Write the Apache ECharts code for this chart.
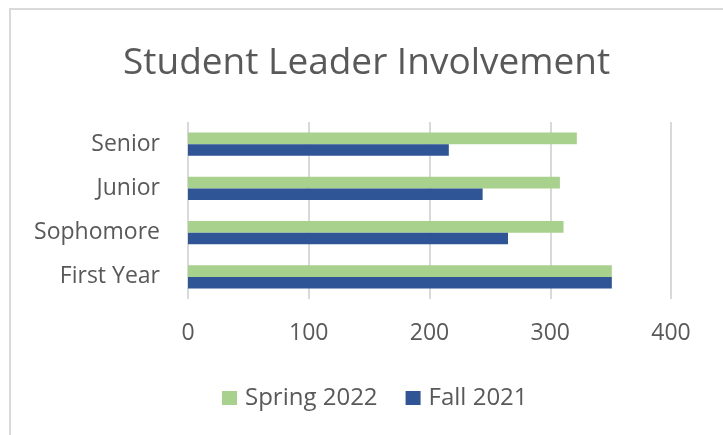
<!DOCTYPE html>
<html>
<head>
<meta charset="utf-8">
<script src="https://cdn.jsdelivr.net/npm/echarts@6/dist/echarts.min.js"></script>
<style>
  html, body { margin: 0; padding: 0; background: #fff; }
  #chart { width: 723px; height: 435px; }
  #frame {
    position: absolute; left: 9px; top: 8px; width: 740px; height: 460px;
    border: 2px solid #d9d9d9; pointer-events: none;
  }
</style>
</head>
<body>
<div id="chart"></div>
<div id="frame"></div>
<script>
// data
const categories = ['First Year', 'Sophomore', 'Junior', 'Senior'];
const spring2022 = [351, 311, 308, 322];
const fall2021 = [351, 265, 244, 216];

const textColor = '#595959';
const font = 'Open Sans';

let chartElem = document.getElementById('chart');
let chart = echarts.init(chartElem);
chart.setOption({
    animation: false,
    title: {
        text: 'Student Leader Involvement',
        left: 123,
        top: 45,
        padding: 0,
        textStyle: { fontFamily: font, fontSize: 37, fontWeight: 'normal', color: textColor }
    },
    legend: {
        data: ['Spring 2022', 'Fall 2021'],
        left: 222,
        top: 386,
        padding: 0,
        itemWidth: 15,
        itemHeight: 14,
        itemGap: 28,
        icon: 'rect',
        textStyle: { fontFamily: font, fontSize: 24, color: textColor, padding: [0, 0, 0, 3] }
    },
    grid: { left: 188, right: 52, top: 122, bottom: 136 },
    xAxis: {
        type: 'value',
        min: 0,
        max: 400,
        interval: 100,
        axisLine: { show: false },
        axisTick: { show: false },
        axisLabel: { margin: 23, fontFamily: font, fontSize: 23, color: textColor },
        splitLine: { lineStyle: { color: '#d9d9d9', width: 2 } }
    },
    yAxis: {
        type: 'category',
        data: categories,
        axisLine: { show: false },
        axisTick: { show: false },
        axisLabel: { margin: 28, fontFamily: font, fontSize: 23, color: textColor }
    },
    series: [{
        name: 'Spring 2022',
        type: 'bar',
        data: spring2022,
        barGap: '0%',
        barCategoryGap: '48%',
        itemStyle: { color: '#a9d18e' }
    }, {
        name: 'Fall 2021',
        type: 'bar',
        data: fall2021,
        barGap: '0%',
        barCategoryGap: '48%',
        itemStyle: { color: '#2f5597' }
    }]
});
</script>
</body>
</html>
